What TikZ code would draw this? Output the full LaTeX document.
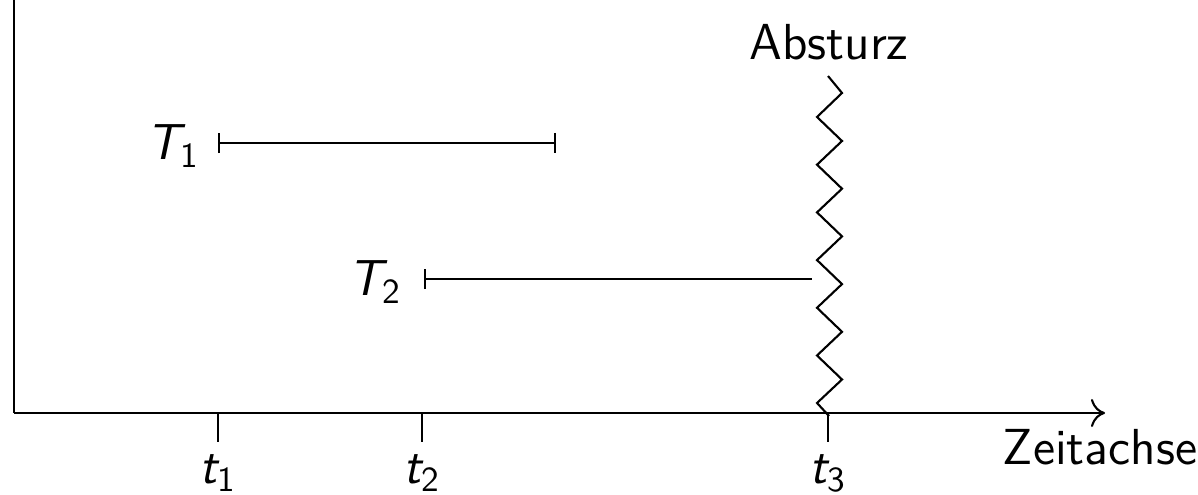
\documentclass[tikz,border=0pt]{standalone}
\usepackage{amsmath}
\usetikzlibrary{arrows.meta}
\newcommand{\sv}[2]{$\textit{#1}_{\textup{#2}}$}
\begin{document}
\begin{tikzpicture}[x=0.01cm,y=-0.01cm,line width=0.6pt,
  lbl/.style={font=\Large\sffamily, inner sep=0pt},
  ivalboth/.style={{Bar[width=5.7pt]}-{Bar[width=5.7pt]}},
  ivalleft/.style={{Bar[width=5.7pt]}-},
  axis/.style={-{To[length=4pt,width=8pt]}}]
\useasboundingbox (0,0) rectangle (1198,495);
% axes
\coordinate (Ytop) at (14,0);
\coordinate (O) at (14,413);
\coordinate (Xend) at (1105,413);
\draw (Ytop) -- (O);
\draw[axis] (O) -- (Xend);
\node[lbl, anchor=base] (zeit) at (1100,465) {Zeitachse};
% ticks
\foreach \n/\x in {1/218,2/422,3/828}{
  \coordinate (a\n) at (\x,413);
  \coordinate (b\n) at (\x,442);
  \draw (a\n) -- (b\n);
  \node[lbl, anchor=base] (t\n) at (\x,484) {\sv{t}{\n}};
}
% intervals
\coordinate (s1) at (218,143);
\coordinate (e1) at (556,143);
\draw[ivalboth] (s1) -- (e1);
\node[lbl, anchor=base east] (T1) at (201,160) {\sv{T}{1}};
\coordinate (s2) at (424,279);
\coordinate (e2) at (812,279);
\draw[ivalleft] (s2) -- (e2);
\node[lbl, anchor=base east] (T2) at (403,296) {\sv{T}{2}};
% crash zigzag
\node[lbl, anchor=base] (crash) at (829,60) {Absturz};
\draw[line join=miter] (828,76) -- (842,93)
  \foreach \k in {0,...,5}{ -- (817,{117+47.7*\k}) -- (842,{141+47.7*\k}) }
  -- (817,403) -- (829,416);
\end{tikzpicture}
\end{document}
